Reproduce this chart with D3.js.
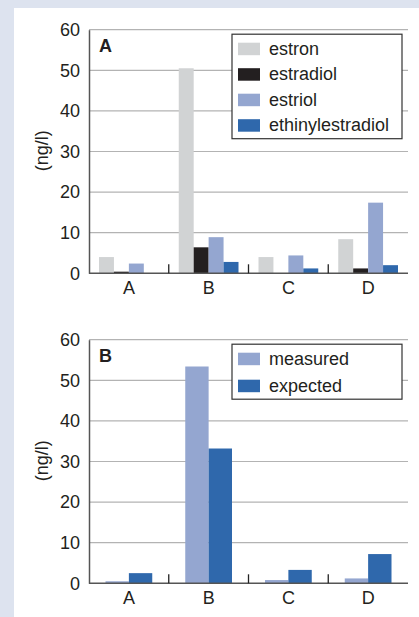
<!DOCTYPE html>
<html>
<head>
<meta charset="utf-8">
<script src="https://cdn.jsdelivr.net/npm/d3@7"></script>
<style>
  body { margin: 0; background: #dde3ef; }
  svg { display: block; font-family: "Liberation Sans", Arial, sans-serif; }
</style>
</head>
<body>
<svg id="chart" width="419" height="617"></svg>
<script>
// data
var sites = ['A', 'B', 'C', 'D'];
var hormones = ['estron', 'estradiol', 'estriol', 'ethinylestradiol'];
var estron = [4.0, 50.5, 4.0, 8.4];
var estradiol = [0.4, 6.4, 0, 1.2];
var estriol = [2.4, 8.9, 4.4, 17.4];
var ethinylestradiol = [0, 2.8, 1.2, 2.0];
var totals = ['measured', 'expected'];
var measured = [0.5, 53.4, 0.8, 1.2];
var expected = [2.5, 33.2, 3.3, 7.2];
var yTicks = [0, 10, 20, 30, 40, 50, 60];

var colors = {
  estron: '#d1d3d4',
  estradiol: '#231f20',
  estriol: '#94a6d0',
  ethinylestradiol: '#2f68ac',
  measured: '#94a6d0',
  expected: '#2f68ac'
};
var fs = 18;

var svg = d3.select('#chart');

svg.append('rect')
  .attr('x', 14).attr('y', 8)
  .attr('width', 405).attr('height', 609)
  .attr('fill', '#fff');

function panel(top, letter, keys, series, innerPad, legendRow) {
  var x0 = 89, x1 = 408, y0 = top + 243.6, y1 = top;
  var g = svg.append('g');

  var x = d3.scaleBand().domain(sites).range([x0, x1]);
  var xi = d3.scaleBand().domain(keys)
    .range([innerPad, x.bandwidth() - innerPad]);
  var y = d3.scaleLinear().domain([0, 60]).range([y0, y1]);

  // grid
  g.selectAll('.grid').data(yTicks.slice(1)).enter().append('line')
    .attr('x1', x0).attr('x2', x1)
    .attr('y1', d => y(d)).attr('y2', d => y(d))
    .attr('stroke', '#b3b3b3').attr('stroke-width', 1.2);

  // bars
  keys.forEach(function(k) {
    g.selectAll('.b' + k).data(series[k]).enter().append('rect')
      .attr('x', (d, i) => x(sites[i]) + xi(k))
      .attr('width', xi.bandwidth())
      .attr('y', d => y(d))
      .attr('height', d => y0 - y(d))
      .attr('fill', colors[k]);
  });

  // y axis
  var ya = d3.axisLeft(y).tickValues(yTicks).tickSize(0).tickPadding(9);
  var yg = g.append('g').attr('transform', 'translate(' + x0 + ',0)').call(ya);
  yg.select('.domain').attr('stroke', '#555').attr('stroke-width', 1.5);
  yg.selectAll('text').attr('font-size', fs).attr('fill', '#231f20')
    .attr('font-family', '"Liberation Sans", Arial, sans-serif');

  // x axis
  var xa = d3.axisBottom(x).tickSize(0).tickPadding(8);
  var xg = g.append('g').attr('transform', 'translate(0,' + y0 + ')').call(xa);
  xg.select('.domain').attr('d', 'M' + x0 + ',0H' + x1)
    .attr('stroke', '#555').attr('stroke-width', 1.5);
  xg.selectAll('text').attr('font-size', fs).attr('fill', '#231f20')
    .attr('font-family', '"Liberation Sans", Arial, sans-serif');

  // separator ticks
  g.selectAll('.sep').data(sites.slice(1)).enter().append('line')
    .attr('x1', d => x(d)).attr('x2', d => x(d))
    .attr('y1', y0 - 9).attr('y2', y0)
    .attr('stroke', '#222').attr('stroke-width', 1.3);

  // y label
  g.append('text')
    .attr('transform', 'translate(48,' + (top + 121) + ') rotate(-90)')
    .attr('text-anchor', 'middle')
    .attr('font-size', fs).attr('fill', '#231f20')
    .text('(ng/l)');

  // panel letter
  g.append('text')
    .attr('x', 99).attr('y', top + 22)
    .attr('font-size', fs).attr('font-weight', 'bold').attr('fill', '#231f20')
    .text(letter);

  // legend
  var lh = 28 + (keys.length - 1) * legendRow;
  var lg = g.append('g').attr('transform', 'translate(232,' + (top + 4.5) + ')');
  lg.append('rect')
    .attr('width', 170).attr('height', lh)
    .attr('fill', '#fff').attr('stroke', '#333').attr('stroke-width', 1.2);
  keys.forEach(function(k, i) {
    var cy = 14.5 + i * legendRow;
    lg.append('rect')
      .attr('x', 6).attr('y', cy - 6)
      .attr('width', 22).attr('height', 12.5)
      .attr('fill', colors[k]);
    lg.append('text')
      .attr('x', 37).attr('y', cy + 6)
      .attr('font-size', fs).attr('fill', '#231f20')
      .text(k);
  });
}

panel(29.7, 'A', hormones,
  { estron: estron, estradiol: estradiol, estriol: estriol, ethinylestradiol: ethinylestradiol },
  10, 25.5);
panel(339.7, 'B', totals,
  { measured: measured, expected: expected },
  16.5, 27);
</script>
</body>
</html>
